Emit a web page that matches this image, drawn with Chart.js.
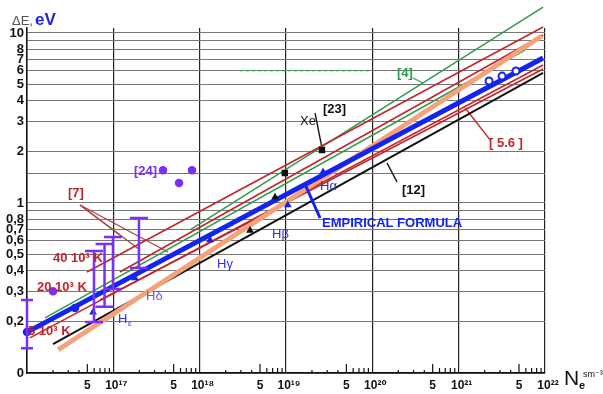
<!DOCTYPE html>
<html>
<head>
<meta charset="utf-8">
<script src="https://cdn.jsdelivr.net/npm/chart.js@4.4.1/dist/chart.umd.min.js"></script>
<style>
  html, body { margin: 0; padding: 0; background: #fff; }
  #wrap { width: 603px; height: 394px; }
</style>
</head>
<body>
<div id="wrap"><canvas id="chart" width="603" height="394"></canvas></div>
<script>
// N_e in cm^-3, line width dE in eV
const yTickValues = [10, 8, 7, 6, 5, 4, 3, 2, 1, 0.8, 0.7, 0.6, 0.5, 0.4, 0.3, 0.2, 0.1];
const yTickText   = ['10', '8', '7', '6', '5', '4', '3', '2', '1', '0,8', '0,7', '0,6', '0,5', '0,4', '0,3', '0,2', '0'];

// empirical formula (thick blue) and reference lines
const empiricalN = [1.0e16, 9.5e21];  const empiricalE = [0.174, 7.13];
const ref12N     = [2.0e16, 9.5e21];  const ref12E     = [0.148, 5.82];
const orangeN    = [2.29e16, 9.2e21]; const orangeE    = [0.137, 9.6];
const ref4aN     = [7.73e17, 9.5e21]; const ref4aE     = [0.694, 14.2];
const ref4bN     = [1.62e16, 5.87e21]; const ref4bE    = [0.211, 7.94];
const ref56aN    = [4.95e16, 9.5e21]; const ref56aE    = [0.393, 10.85];
const ref56bN    = [1.19e17, 9.5e21]; const ref56bE    = [0.393, 9.73];
const ref56cN    = [1.08e16, 9.5e21]; const ref56cE    = [0.161, 6.48];
const ref56dN    = [7.02e16, 9.5e21]; const ref56dE    = [0.269, 6.14];
const dashed4N   = [2.93e18, 9.8e19]; const dashed4E   = [6, 6];

// leader lines from the labels
const lead4N   = [2.96e20, 3.86e20]; const lead4E   = [5.43, 5.08];
const leadXeN  = [2.17e19, 2.61e19]; const leadXeE  = [3.38, 2.11];
const lead12N  = [1.48e20, 1.93e20]; const lead12E  = [1.72, 1.33];
const lead56N  = [1.19e21, 2.31e21]; const lead56E  = [3.62, 2.35];
const leadEmpN = [1.66e19, 2.48e19]; const leadEmpE = [1.29, 0.816];
const lead7aN  = [4.11e16, 2.04e17]; const lead7aE  = [0.973, 0.529];
const lead7bN  = [4.11e16, 4.3e17];  const lead7bE  = [0.973, 0.515];
const lead7cN  = [4.11e16, 1.19e17]; const lead7cE  = [0.973, 0.648];

// measured points
const xeN      = [2.61e19, 9.7e18];  const xeE      = [2.05, 1.50];
const blackTriN = [7.47e18, 3.83e18]; const blackTriE = [1.08, 0.69];
const ref24N   = [3.76e17, 5.77e17, 8.15e17]; const ref24E = [1.56, 1.31, 1.56];
const t20kN    = [2.0e16];            const t20kE    = [0.303];
const circN    = [2.25e21, 3.18e21, 4.61e21]; const circE = [5.22, 5.58, 5.98];
const hLinesN  = [2.69e19, 1.05e19, 1.32e18, 1.78e17, 5.82e16];
const hLinesE  = [1.52, 0.973, 0.605, 0.362, 0.228];
const blueDotN = [1.0e16, 3.6e16];    const blueDotE = [0.174, 0.241];

// error bars
const barN    = [1.0e16, 5.97e16, 7.91e16, 9.9e16, 1.98e17];
const barLow  = [0.140, 0.1995, 0.245, 0.312, 0.415];
const barHigh = [0.269, 0.522, 0.574, 0.631, 0.816];

const BLUE = '#1424f0', RED = '#c0262c', GREEN = '#2f9a4c', ORANGE = '#f4a27a', PURPLE = '#7b2ff7';
const FONT = '"Liberation Sans", Arial, "DejaVu Sans", sans-serif';

const pts = (xs, ys) => xs.map((x, i) => ({ x, y: ys[i] }));
const sup = { '0':'⁰','1':'¹','2':'²','3':'³','4':'⁴','5':'⁵','6':'⁶','7':'⁷','8':'⁸','9':'⁹' };

function line(xs, ys, color, width, extra) {
    return Object.assign({
        data: pts(xs, ys), showLine: true, borderColor: color, borderWidth: width,
        pointRadius: 0, fill: false, clip: false
    }, extra || {});
}
function marks(xs, ys, style, radius, color, bg, extra) {
    return Object.assign({
        data: pts(xs, ys), showLine: false, pointStyle: style, pointRadius: radius,
        borderColor: color, backgroundColor: bg || color, borderWidth: 1.5, clip: false
    }, extra || {});
}

function isDecade(v) {
    const e = Math.log10(v);
    return Math.abs(e - Math.round(e)) < 1e-6;
}

const notes = [
    { t: '[4]', x: 397, y: 77, c: GREEN, f: 'bold 13px' },
    { t: '[23]', x: 323, y: 113, c: '#111', f: 'bold 13px' },
    { t: 'Xe', x: 300, y: 125, c: '#111', f: '13px' },
    { t: '[ 5.6 ]', x: 489, y: 147, c: RED, f: 'bold 13px' },
    { t: '[12]', x: 402, y: 194, c: '#111', f: 'bold 13px' },
    { t: 'EMPIRICAL FORMULA', x: 322, y: 227, c: BLUE, f: 'bold 13px' },
    { t: 'Hα', x: 320, y: 190, c: '#3030d8', f: '13px' },
    { t: 'Hβ', x: 272, y: 238, c: '#3030d8', f: '13px' },
    { t: 'Hγ', x: 217, y: 268, c: '#3030d8', f: '13px' },
    { t: 'Hδ', x: 146, y: 300, c: '#6a5ad8', f: '13px' },
    { t: 'H', x: 118, y: 323, c: '#3030d8', f: '13px' },
    { t: 'ε', x: 128, y: 326, c: '#3030d8', f: '8px' },
    { t: '[24]', x: 134, y: 175, c: PURPLE, f: 'bold 13px' },
    { t: '[7]', x: 68, y: 197, c: RED, f: 'bold 13px' },
    { t: '40 10³ K', x: 53, y: 262, c: RED, f: 'bold 13px' },
    { t: '20 10³ K', x: 37, y: 291, c: RED, f: 'bold 13px' },
    { t: '5 10³ K', x: 28, y: 335, c: RED, f: 'bold 13px' },
    { t: 'ΔE,', x: 12, y: 25, c: '#555', f: '13px' },
    { t: 'eV', x: 35, y: 25, c: '#2020e0', f: 'bold 17px' },
    { t: 'N', x: 564, y: 385, c: '#111', f: '21px' },
    { t: 'e', x: 579, y: 389, c: '#111', f: 'bold 11px' },
    { t: 'sm⁻³', x: 583, y: 377, c: '#111', f: '9px' }
];

// inward minor ticks, error bars and text
const extras = {
    id: 'extras',
    beforeDatasetsDraw(chart) {
        const { ctx, scales: { x }, chartArea } = chart;
        ctx.save();
        ctx.strokeStyle = '#111';
        ctx.lineWidth = 1.2;
        for (let e = 16; e < 22; e++) {
            for (let k = 2; k <= 9; k++) {
                const px = x.getPixelForValue(k * Math.pow(10, e));
                const len = k === 5 ? 9 : (k < 5 ? 3 : 5);
                ctx.beginPath();
                ctx.moveTo(px, chartArea.bottom);
                ctx.lineTo(px, chartArea.bottom - len);
                ctx.stroke();
            }
        }
        ctx.restore();
    },
    afterDatasetsDraw(chart) {
        const { ctx, scales: { x, y } } = chart;
        ctx.save();
        ctx.strokeStyle = PURPLE;
        ctx.lineWidth = 2.5;
        barN.forEach((n, i) => {
            const px = x.getPixelForValue(n);
            const top = y.getPixelForValue(barHigh[i]);
            const bot = y.getPixelForValue(barLow[i]);
            const cap = i === 0 ? 6 : 9;
            ctx.beginPath();
            ctx.moveTo(px, top); ctx.lineTo(px, bot);
            ctx.moveTo(px - cap, top); ctx.lineTo(px + cap, top);
            ctx.moveTo(px - cap, bot); ctx.lineTo(px + cap, bot);
            ctx.stroke();
        });
        ctx.restore();
    },
    afterDraw(chart) {
        const ctx = chart.ctx;
        ctx.save();
        ctx.textBaseline = 'alphabetic';
        ctx.textAlign = 'left';
        notes.forEach(n => {
            ctx.font = n.f + ' ' + FONT;
            ctx.fillStyle = n.c;
            ctx.fillText(n.t, n.x, n.y);
        });
        ctx.restore();
    }
};

new Chart(document.getElementById('chart'), {
    type: 'scatter',
    data: {
        datasets: [
            marks(xeN, xeE, 'rect', 3.5, '#111'),
            marks(blackTriN, blackTriE, 'triangle', 3, '#111'),
            marks(ref24N, ref24E, 'circle', 3.5, PURPLE),
            marks(t20kN, t20kE, 'circle', 3.5, PURPLE),
            marks(circN, circE, 'circle', 3.5, BLUE, '#fff', { borderWidth: 2 }),
            marks(hLinesN, hLinesE, 'triangle', 3, BLUE),
            marks(blueDotN, blueDotE, 'circle', 3.5, BLUE),
            line(empiricalN, empiricalE, BLUE, 5),
            line(leadEmpN, leadEmpE, BLUE, 3),
            line(orangeN, orangeE, ORANGE, 5),
            line(ref12N, ref12E, '#111', 2),
            line(ref56aN, ref56aE, RED, 1.6),
            line(ref56bN, ref56bE, RED, 1.6),
            line(ref56cN, ref56cE, RED, 1.6),
            line(ref56dN, ref56dE, RED, 1.6),
            line(ref4aN, ref4aE, GREEN, 1.5),
            line(ref4bN, ref4bE, GREEN, 1.5),
            line(dashed4N, dashed4E, GREEN, 1.2, { borderDash: [3, 3] }),
            line(lead4N, lead4E, GREEN, 1.2),
            line(leadXeN, leadXeE, '#111', 1.4),
            line(lead12N, lead12E, '#111', 1.4),
            line(lead56N, lead56E, RED, 1.4),
            line(lead7aN, lead7aE, '#a8443c', 1.3),
            line(lead7bN, lead7bE, '#a8443c', 1.3),
            line(lead7cN, lead7cE, '#a8443c', 1.3)
        ]
    },
    options: {
        responsive: false,
        animation: false,
        layout: { padding: { top: 28, right: 58, left: 0, bottom: 0 } },
        plugins: { legend: { display: false }, tooltip: { enabled: false } },
        scales: {
            x: {
                type: 'logarithmic', min: 1e16, max: 1e22,
                afterFit: s => { s.height = 21; },
                border: { color: '#111', width: 1.5 },
                grid: {
                    drawTicks: false, lineWidth: 1.2,
                    color: c => (c.tick && isDecade(c.tick.value)) ? '#222' : 'rgba(0,0,0,0)'
                },
                ticks: {
                    autoSkip: false, maxRotation: 0, padding: 5, color: '#111',
                    font: { family: FONT, size: 12, weight: 'bold' },
                    callback: v => {
                        const e = Math.floor(Math.log10(v) + 1e-9);
                        const m = v / Math.pow(10, e);
                        if (Math.abs(m - 1) < 1e-6 && e > 16) return '\u2002' + '10' + String(e).split('').map(d => sup[d]).join('');
                        if (Math.abs(m - 5) < 1e-6) return '5';
                        return '';
                    }
                }
            },
            y: {
                type: 'logarithmic', min: 0.1, max: 10.7,
                afterFit: s => { s.width = 27; },
                border: { color: '#111', width: 1.5 },
                grid: {
                    drawTicks: false, lineWidth: 1,
                    color: c => (c.tick && c.tick.value > 10.5) ? 'rgba(0,0,0,0)' : '#777'
                },
                ticks: {
                    autoSkip: false, padding: 3, color: '#111',
                    font: { family: FONT, size: 13, weight: 'bold' },
                    callback: v => {
                        const i = yTickValues.findIndex(t => Math.abs(v - t) / t < 1e-6);
                        return i < 0 ? '' : yTickText[i];
                    }
                }
            }
        }
    },
    plugins: [extras]
});
</script>
</body>
</html>
